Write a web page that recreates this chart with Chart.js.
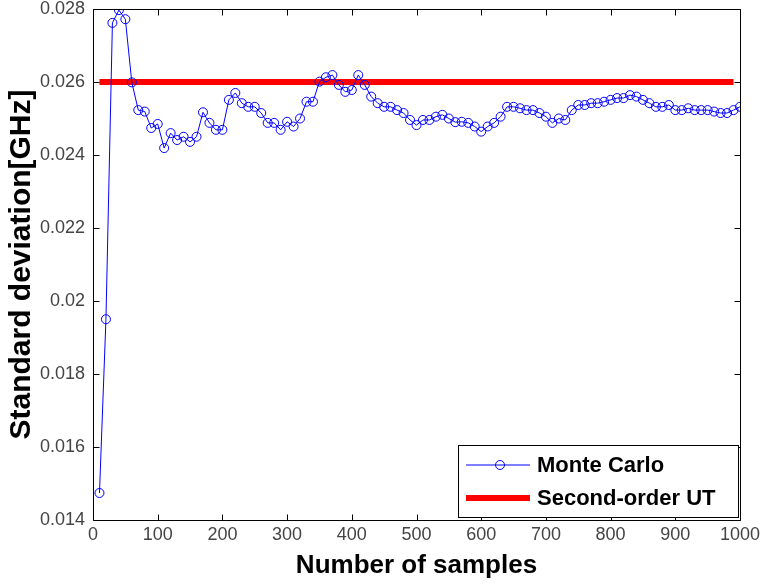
<!DOCTYPE html>
<html><head><meta charset="utf-8">
<script src="https://cdn.jsdelivr.net/npm/chart.js@4/dist/chart.umd.min.js"></script>
<style>html,body{margin:0;padding:0;background:#fff}canvas{display:block}</style>
</head><body>
<canvas id="c" width="760" height="585"></canvas>
<script>
const samples = [10,20,30,40,50,60,70,80,90,100,110,120,130,140,150,160,170,180,190,200,
  210,220,230,240,250,260,270,280,290,300,310,320,330,340,350,360,370,380,390,400,
  410,420,430,440,450,460,470,480,490,500,510,520,530,540,550,560,570,580,590,600,
  610,620,630,640,650,660,670,680,690,700,710,720,730,740,750,760,770,780,790,800,
  810,820,830,840,850,860,870,880,890,900,910,920,930,940,950,960,970,980,990,1000];
const monteCarlo = [0.01474,0.0195,0.02762,0.02797,0.02772,0.02599,0.02523,0.02519,0.02474,0.02485,
  0.02419,0.0246,0.02441,0.0245,0.02436,0.0245,0.02517,0.02488,0.02469,0.02469,
  0.02551,0.0257,0.02542,0.02532,0.02532,0.02515,0.02488,0.02488,0.02469,0.02491,
  0.02478,0.025,0.02546,0.02546,0.02601,0.02613,0.02619,0.02592,0.02573,0.02578,
  0.02619,0.02592,0.0256,0.02542,0.02532,0.02532,0.02523,0.02515,0.02496,0.02482,
  0.02496,0.02496,0.02505,0.0251,0.025,0.0249,0.02491,0.02488,0.02478,0.02464,
  0.02478,0.02488,0.02505,0.02532,0.02532,0.02528,0.02523,0.02523,0.02515,0.02505,
  0.02488,0.025,0.02496,0.02523,0.02537,0.02537,0.02542,0.02542,0.02546,0.02551,
  0.02556,0.02556,0.02564,0.0256,0.02551,0.02542,0.02532,0.02532,0.02537,0.02523,
  0.02523,0.02528,0.02523,0.02523,0.02523,0.02519,0.02515,0.02515,0.02523,0.02532];
const utSamples = [10, 990];
const secondOrderUT = [0.026, 0.026];
const xTicks = [0,100,200,300,400,500,600,700,800,900,1000];
const yTicks = [0.014,0.016,0.018,0.02,0.022,0.024,0.026,0.028];
const seriesNames = ['Monte Carlo', 'Second-order UT'];
const xTitle = 'Number of samples';
const yTitle = 'Standard deviation[GHz]';

const toPts = (xs, ys) => xs.map((x, i) => ({x: x, y: ys[i]}));

const framePlugin = {
  id: 'frame',
  afterDatasetsDraw(chart) {
    const ctx = chart.ctx, a = chart.chartArea;
    const xs = chart.scales.x, ys = chart.scales.y;
    ctx.save();
    ctx.strokeStyle = '#000';
    ctx.lineWidth = 1;
    ctx.beginPath();
    const L = Math.round(a.left) + 0.5, R = Math.round(a.right) + 0.5;
    const T = Math.round(a.top) + 0.5, B = Math.round(a.bottom) + 0.5;
    ctx.rect(L, T, R - L, B - T);
    const tl = 6;
    xTicks.forEach(v => {
      const p = Math.round(xs.getPixelForValue(v)) + 0.5;
      ctx.moveTo(p, B); ctx.lineTo(p, B - tl);
      ctx.moveTo(p, T); ctx.lineTo(p, T + tl);
    });
    yTicks.forEach(v => {
      const p = Math.round(ys.getPixelForValue(v)) + 0.5;
      ctx.moveTo(L, p); ctx.lineTo(L + tl, p);
      ctx.moveTo(R, p); ctx.lineTo(R - tl, p);
    });
    ctx.stroke();
    ctx.restore();
  }
};

const boxLegendPlugin = {
  id: 'boxLegend',
  afterDraw(chart) {
    const ctx = chart.ctx, a = chart.chartArea;
    const w = 280, h = 72;
    const x0 = Math.round(a.right) - 2 - w, y0 = Math.round(a.bottom) - 3 - h;
    ctx.save();
    ctx.fillStyle = '#fff';
    ctx.fillRect(x0, y0, w, h);
    ctx.strokeStyle = '#000';
    ctx.lineWidth = 1;
    ctx.strokeRect(x0 + 0.5, y0 + 0.5, w, h);
    ctx.font = 'bold 22px "Liberation Sans", Arial, sans-serif';
    ctx.textBaseline = 'middle';
    ctx.fillStyle = '#000';
    chart.data.datasets.forEach((ds, i) => {
      const cy = y0 + 20 + i * 33;
      ctx.beginPath();
      ctx.strokeStyle = ds.borderColor;
      ctx.lineWidth = ds.borderWidth;
      ctx.moveTo(x0 + 8, cy); ctx.lineTo(x0 + 72, cy);
      ctx.stroke();
      if (ds.pointRadius > 0) {
        ctx.beginPath();
        ctx.lineWidth = 1;
        ctx.arc(x0 + 42, cy, ds.pointRadius, 0, Math.PI * 2);
        ctx.stroke();
      }
      ctx.fillStyle = '#000';
      ctx.fillText(ds.label, x0 + 79, cy + 1);
    });
    ctx.restore();
  }
};

new Chart(document.getElementById('c'), {
  type: 'line',
  data: {
    datasets: [
      {
        label: seriesNames[0],
        data: toPts(samples, monteCarlo),
        borderColor: '#0000ff',
        borderWidth: 1,
        pointRadius: 4.5,
        pointStyle: 'circle',
        pointBorderColor: '#0000ff',
        pointBackgroundColor: 'rgba(0,0,0,0)',
        pointBorderWidth: 1,
        tension: 0,
        fill: false
      },
      {
        label: seriesNames[1],
        data: toPts(utSamples, secondOrderUT),
        borderColor: '#ff0000',
        borderWidth: 6,
        borderCapStyle: 'butt',
        pointRadius: 0,
        tension: 0,
        fill: false
      }
    ]
  },
  options: {
    responsive: false,
    animation: false,
    devicePixelRatio: 1,
    layout: {padding: {top: 9, right: 20, left: 0, bottom: 0}},
    plugins: {legend: {display: false}, tooltip: {enabled: false}},
    scales: {
      x: {
        type: 'linear',
        min: 0, max: 1000,
        afterBuildTicks: s => { s.ticks = xTicks.map(v => ({value: v})); },
        afterFit: s => { s.height = 65; s.paddingLeft = 0; s.paddingRight = 0; },
        grid: {display: false, drawTicks: false},
        border: {display: false},
        ticks: {
          color: '#444',
          padding: 4,
          maxRotation: 0,
          autoSkip: false,
          font: {family: '"Liberation Sans", Arial, sans-serif', size: 18},
          callback: v => String(v)
        },
        title: {
          display: true, text: xTitle, color: '#000',
          font: {family: '"Liberation Sans", Arial, sans-serif', size: 26, weight: 'bold', lineHeight: 1},
          padding: {top: 0, bottom: 6}
        }
      },
      y: {
        type: 'linear',
        min: 0.014, max: 0.028,
        afterBuildTicks: s => { s.ticks = yTicks.map(v => ({value: v})); },
        afterFit: s => { s.width = 93; s.paddingTop = 0; s.paddingBottom = 0; },
        grid: {display: false, drawTicks: false},
        border: {display: false},
        ticks: {
          color: '#444',
          padding: 8,
          autoSkip: false,
          font: {family: '"Liberation Sans", Arial, sans-serif', size: 18},
          callback: v => String(+Number(v).toFixed(3))
        },
        title: {
          display: true, text: yTitle, color: '#000',
          font: {family: '"Liberation Sans", Arial, sans-serif', size: 30, weight: 'bold', lineHeight: 1},
          padding: {top: 7, bottom: 0}
        }
      }
    }
  },
  plugins: [framePlugin, boxLegendPlugin]
});
</script>
</body></html>
